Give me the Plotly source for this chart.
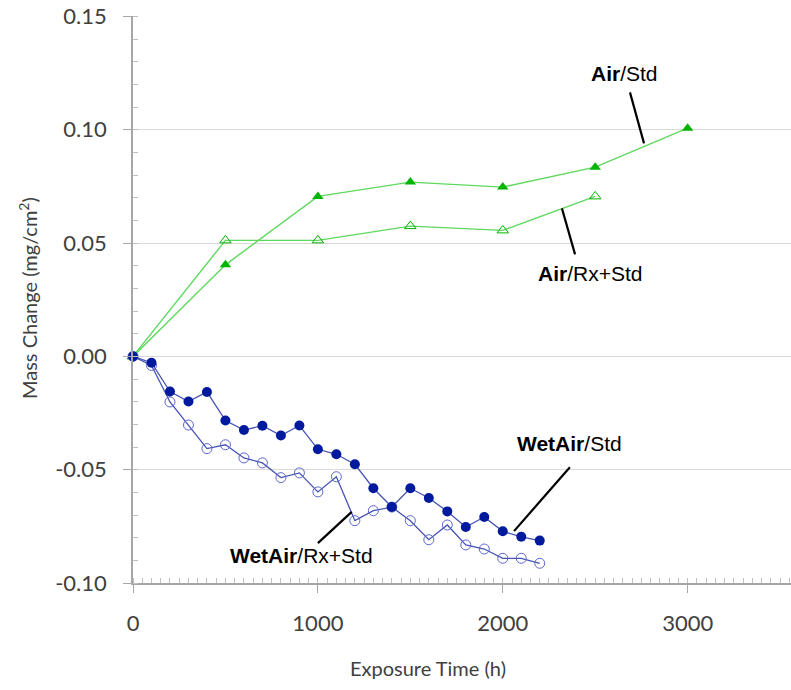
import plotly.graph_objects as go

# ---- data ----
wet_hours = [0, 100, 200, 300, 400, 500, 600, 700, 800, 900, 1000, 1100,
             1200, 1300, 1400, 1500, 1600, 1700, 1800, 1900, 2000, 2100, 2200]
wetair_std = [0.0, -0.0028, -0.0155, -0.0199, -0.0157, -0.0283, -0.0325, -0.0306,
              -0.0349, -0.0305, -0.0410, -0.0432, -0.0476, -0.0582, -0.0665, -0.0582,
              -0.0625, -0.0684, -0.0753, -0.0709, -0.0772, -0.0796, -0.0813]
wetair_rxstd = [0.0, -0.0040, -0.0201, -0.0303, -0.0407, -0.0390, -0.0448, -0.0470,
                -0.0535, -0.0514, -0.0598, -0.0531, -0.0725, -0.0681, -0.0665, -0.0725,
                -0.0809, -0.0744, -0.0832, -0.0850, -0.0891, -0.0891, -0.0913]

air_std_hours = [0, 500, 1000, 1500, 2000, 2500, 3000]
air_std = [0.0, 0.0404, 0.0706, 0.0769, 0.0747, 0.0835, 0.1007]
air_rx_hours = [0, 500, 1000, 1500, 2000, 2500]
air_rxstd = [0.0, 0.0512, 0.0512, 0.0575, 0.0556, 0.0706]

x_tick_vals = [0, 1000, 2000, 3000]
x_tick_text = ["0", "1000", "2000", "3000"]
y_tick_vals = [0.15, 0.10, 0.05, 0.00, -0.05, -0.10]
y_tick_text = ["0.15", "0.10", "0.05", "0.00", "-0.05", "-0.10"]

# label annotations: text, text position, leader line (x0, y0, x1, y1)
labels = [
    ("<b>Air</b>/Std", 2661, 0.1249, (2688, 0.1165, 2764, 0.094)),
    ("<b>Air</b>/Rx+Std", 2472, 0.0367, (2320, 0.0653, 2391, 0.045)),
    ("<b>WetAir</b>/Std", 2363, -0.0383, (2363, -0.0489, 2061, -0.0771)),
    ("<b>WetAir</b>/Rx+Std", 914, -0.0877, (1000, -0.0824, 1183, -0.0686)),
]

BLUE_MARK = "#001A9E"
BLUE_LINE = "#4653B4"
BLUE_OPEN = "#5B66CC"
GREEN_MARK = "#00B400"
GREEN_LINE = "#5ED85E"

fig = go.Figure()

fig.add_trace(go.Scatter(
    x=air_rx_hours, y=air_rxstd, mode="lines+markers",
    line=dict(color=GREEN_LINE, width=1.4),
    marker=dict(symbol="triangle-up-open", size=10, color=GREEN_MARK,
                line=dict(color="#2ECC2E", width=1)),
    cliponaxis=False, showlegend=False))
fig.add_trace(go.Scatter(
    x=air_std_hours, y=air_std, mode="lines+markers",
    line=dict(color=GREEN_LINE, width=1.4),
    marker=dict(symbol="triangle-up", size=10, color=GREEN_MARK),
    cliponaxis=False, showlegend=False))
fig.add_trace(go.Scatter(
    x=wet_hours, y=wetair_rxstd, mode="lines+markers",
    line=dict(color=BLUE_LINE, width=1.3),
    marker=dict(symbol="circle-open", size=10, color=BLUE_OPEN,
                line=dict(color=BLUE_OPEN, width=1)),
    cliponaxis=False, showlegend=False))
fig.add_trace(go.Scatter(
    x=wet_hours, y=wetair_std, mode="lines+markers",
    line=dict(color=BLUE_LINE, width=1.3),
    marker=dict(symbol="circle", size=10, color=BLUE_MARK),
    cliponaxis=False, showlegend=False))

annotations = []
shapes = []
for text, tx, ty, (x0, y0, x1, y1) in labels:
    annotations.append(dict(x=tx, y=ty, xref="x", yref="y", text=text,
                            showarrow=False, xanchor="center", yanchor="middle",
                            font=dict(family="Liberation Sans, Arial", size=21,
                                      color="#000000")))
    shapes.append(dict(type="line", xref="x", yref="y", x0=x0, y0=y0, x1=x1, y1=y1,
                       line=dict(color="#000000", width=2.2)))

PL, PT, PW, PH = 133, 16, 658, 567
annotations.append(dict(text="Exposure Time (h)", xref="paper", yref="paper",
                        x=(428 - PL) / PW, y=-(668 - PT - PH) / PH, showarrow=False,
                        xanchor="center", yanchor="middle",
                        font=dict(family="Lato", size=20, color="#404040")))
annotations.append(dict(text="Mass Change (mg/cm<sup>2</sup>)", xref="paper", yref="paper",
                        x=-(PL - 28) / PW, y=(PT + PH - 298) / PH, textangle=-90,
                        showarrow=False, xanchor="center", yanchor="middle",
                        font=dict(family="Lato", size=20, color="#404040")))

fig.update_layout(
    width=791, height=690,
    margin=dict(l=PL, r=0, t=PT, b=690 - PT - PH),
    paper_bgcolor="white", plot_bgcolor="white",
    annotations=annotations, shapes=shapes,
    xaxis=dict(range=[0, 3559], tickvals=x_tick_vals, ticktext=x_tick_text,
               automargin=False, ticklabeloverflow="allow",
               showgrid=False, zeroline=False,
               showline=True, linecolor="#A6A6A6", linewidth=1.5,
               ticks="outside", ticklen=8, tickcolor="#A6A6A6", tickwidth=1,
               ticklabelstandoff=12,
               tickfont=dict(family="Lato", size=22, color="#404040"),
               minor=dict(dtick=50, ticks="inside", ticklen=5, tickcolor="#BFBFBF",
                          showgrid=False)),
    yaxis=dict(range=[-0.10, 0.1502], tickvals=y_tick_vals, ticktext=y_tick_text,
               automargin=False, ticklabeloverflow="allow",
               showgrid=True, gridcolor="#D9D9D9", gridwidth=1, zeroline=False,
               showline=True, linecolor="#A6A6A6", linewidth=1.5,
               ticks="outside", ticklen=8, tickcolor="#A6A6A6", tickwidth=1,
               ticklabelstandoff=12,
               tickfont=dict(family="Lato", size=22, color="#404040"),
               minor=dict(dtick=0.01, ticks="inside", ticklen=5, tickcolor="#BFBFBF",
                          showgrid=False)),
)

# remove the browser's default 8px page margin so the figure sits at the page corner
fig.write_html("out.html", config={"displayModeBar": False},
               post_script="document.body.style.margin='0';")
